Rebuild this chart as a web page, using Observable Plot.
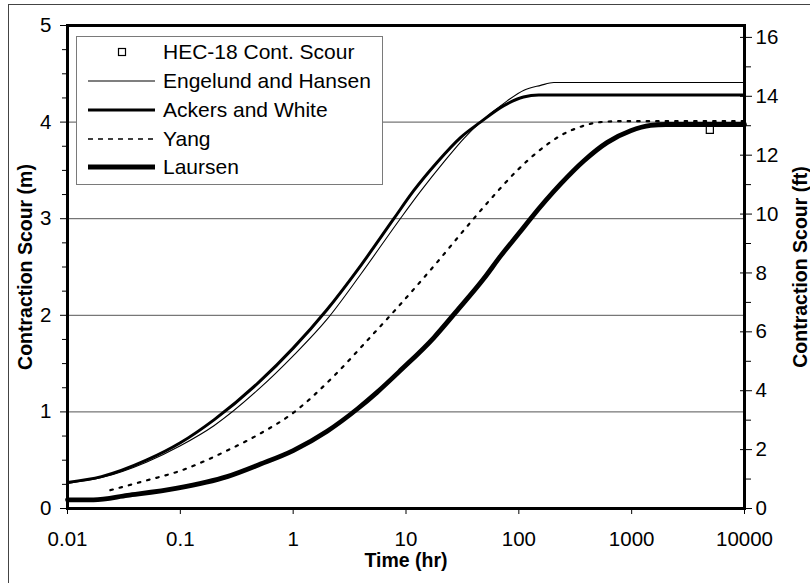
<!DOCTYPE html>
<html><head><meta charset="utf-8">
<script src="https://cdn.jsdelivr.net/npm/d3@7"></script>
<script src="https://cdn.jsdelivr.net/npm/@observablehq/plot@0.6"></script>
<style>body{margin:0;background:#fff} svg{display:block}</style>
</head><body><div id="chart"></div>
<script>
// ---- data (time in hr, scour in m) ----
const seriesNames = ["HEC-18 Cont. Scour", "Engelund and Hansen", "Ackers and White", "Yang", "Laursen"];

const hecT = [4930];
const hecM = [3.92];

const engelundT = [0.01, 0.02, 0.05, 0.1, 0.2, 0.5, 1, 2, 4, 8.9, 13.6, 21.6, 32.5, 45.7, 78.9, 111, 156, 204, 10000];
const engelundM = [0.26, 0.32, 0.48, 0.65, 0.86, 1.24, 1.58, 1.96, 2.43, 3.0, 3.29, 3.585, 3.83, 4.0, 4.22, 4.33, 4.38, 4.41, 4.41];

const ackersT = [0.01, 0.02, 0.05, 0.1, 0.2, 0.5, 1, 2, 4, 7.8, 11.7, 18.9, 30.4, 45.7, 73.6, 110, 150, 10000];
const ackersM = [0.27, 0.33, 0.50, 0.68, 0.92, 1.31, 1.66, 2.06, 2.52, 3.0, 3.29, 3.585, 3.84, 4.0, 4.17, 4.26, 4.28, 4.28];

const yangT = [0.024, 0.05, 0.1, 0.26, 0.5, 1.0, 2.29, 4.54, 8.4, 18.9, 34.8, 56, 96.8, 146, 234, 330, 531, 800, 10000];
const yangM = [0.19, 0.29, 0.39, 0.60, 0.77, 0.99, 1.37, 1.74, 2.08, 2.55, 2.92, 3.2, 3.5, 3.69, 3.86, 3.94, 4.0, 4.01, 4.01];

const laursenT = [0.01, 0.017, 0.034, 0.094, 0.26, 0.514, 1.0, 2.0, 3.7, 5.5, 8.95, 17.7, 27.5, 49, 69.6, 103.6, 127, 235, 378, 609, 980, 1473, 2000, 10000];
const laursenM = [0.09, 0.09, 0.135, 0.21, 0.33, 0.46, 0.60, 0.80, 1.03, 1.20, 1.43, 1.77, 2.03, 2.38, 2.62, 2.87, 3.0, 3.36, 3.60, 3.79, 3.91, 3.965, 3.975, 3.975];

// ---- ticks ----
const xTicks = [0.01, 0.1, 1, 10, 100, 1000, 10000];
const xTickLabels = ["0.01", "0.1", "1", "10", "100", "1000", "10000"];
const yTicksM = [0, 1, 2, 3, 4, 5];
const yMinorM = [0.25, 0.5, 0.75, 1.25, 1.5, 1.75, 2.25, 2.5, 2.75, 3.25, 3.5, 3.75, 4.25, 4.5, 4.75];
const gridM = [1, 2, 3, 4];
const ftTicks = [0, 2, 4, 6, 8, 10, 12, 14, 16];
const ftMinor = [1, 3, 5, 7, 9, 11, 13, 15];
const FT = 0.3048;

const zip = (T, M) => T.map((t, i) => ({t, m: M[i]}));
const font = "'Liberation Sans', Arial, Helvetica, sans-serif";

const plot = Plot.plot({
  width: 810, height: 583,
  marginLeft: 67, marginRight: 66, marginTop: 25, marginBottom: 75,
  style: {fontFamily: font, fontSize: "20px", background: "white", color: "black", overflow: "visible"},
  x: {type: "log", domain: [0.01, 10000]},
  y: {domain: [0, 5]},
  marks: [
    Plot.ruleY(gridM, {stroke: "#555", strokeWidth: 1}),
    Plot.line(zip(engelundT, engelundM), {x: "t", y: "m", stroke: "black", strokeWidth: 1.1, curve: "monotone-x"}),
    Plot.line(zip(ackersT, ackersM), {x: "t", y: "m", stroke: "black", strokeWidth: 3, curve: "monotone-x"}),
    Plot.line(zip(yangT, yangM), {x: "t", y: "m", stroke: "black", strokeWidth: 2.2, strokeDasharray: "2.5,7", curve: "monotone-x"}),
    Plot.line(zip(laursenT, laursenM), {x: "t", y: "m", stroke: "black", strokeWidth: 4.8, curve: "monotone-x"}),
    Plot.dot(zip(hecT, hecM), {x: "t", y: "m", symbol: "square", r: 4, fill: "white", stroke: "black", strokeWidth: 1.2}),
    Plot.frame({stroke: "black", strokeWidth: 3}),
    Plot.axisX({ticks: xTicks, tickFormat: d => xTickLabels[xTicks.indexOf(d)], tickSize: 6, tickPadding: 17, fontSize: 20.5, label: null}),
    Plot.axisY({anchor: "left", ticks: yTicksM, tickFormat: d => String(d), tickSize: 7, tickPadding: 9, fontSize: 20.5, label: null}),
    Plot.axisY({anchor: "left", ticks: yMinorM, tickFormat: () => "", tickSize: 5, label: null}),
    Plot.axisY({anchor: "right", ticks: ftTicks.map(f => f * FT), tickFormat: d => String(Math.round(d / FT)), tickSize: 7, tickPadding: 4, fontSize: 20.5, label: null}),
    Plot.axisY({anchor: "right", ticks: ftTicks.map(f => f * FT), tickFormat: () => "", tickSize: 5, dx: -5, label: null}),
    Plot.axisY({anchor: "right", ticks: ftMinor.map(f => f * FT), tickFormat: () => "", tickSize: 6, label: null}),
    Plot.text(["Contraction Scour (m)"], {text: d => d, frameAnchor: "left", rotate: -90, textAnchor: "middle", dx: -42, fontSize: 19.5, fontWeight: "bold"}),
    Plot.text(["Contraction Scour (ft)"], {text: d => d, frameAnchor: "right", rotate: -90, textAnchor: "middle", dx: 56, fontSize: 19.5, fontWeight: "bold"}),
    Plot.text(["Time (hr)"], {text: d => d, frameAnchor: "bottom", textAnchor: "middle", dy: 58, fontSize: 19.5, fontWeight: "bold"})
  ]
});

const svg = d3.select(plot);
// outer chart border (partly cropped in the reference)
svg.insert("rect", ":first-child")
  .attr("x", 8.5).attr("y", 4.5).attr("width", 900).attr("height", 700)
  .attr("fill", "none").attr("stroke", "#444").attr("stroke-width", 1);

// legend
const lg = svg.append("g").attr("font-family", font).attr("font-size", 21).attr("text-anchor", "start");
lg.append("rect").attr("x", 76.5).attr("y", 36.5).attr("width", 306).attr("height", 148)
  .attr("fill", "white").attr("stroke", "#7a7a7a").attr("stroke-width", 1);
const rowY = [52, 81, 110, 139, 167];
const lineStyles = [null, {w: 1.1}, {w: 3}, {w: 1.6, dash: "5,5"}, {w: 4.8}];
seriesNames.forEach((name, i) => {
  const y = rowY[i];
  if (i === 0) {
    lg.append("rect").attr("x", 118.5).attr("y", y - 3.5).attr("width", 7).attr("height", 7)
      .attr("fill", "white").attr("stroke", "black").attr("stroke-width", 1.2);
  } else {
    const s = lineStyles[i];
    lg.append("line").attr("x1", 88).attr("x2", 155).attr("y1", y).attr("y2", y)
      .attr("stroke", "black").attr("stroke-width", s.w).attr("stroke-dasharray", s.dash || null);
  }
  lg.append("text").attr("x", 163).attr("y", y).attr("dy", "0.35em")
    .attr("text-anchor", "start").attr("fill", "black").text(name);
});

document.getElementById("chart").appendChild(plot);
</script>
</body></html>
